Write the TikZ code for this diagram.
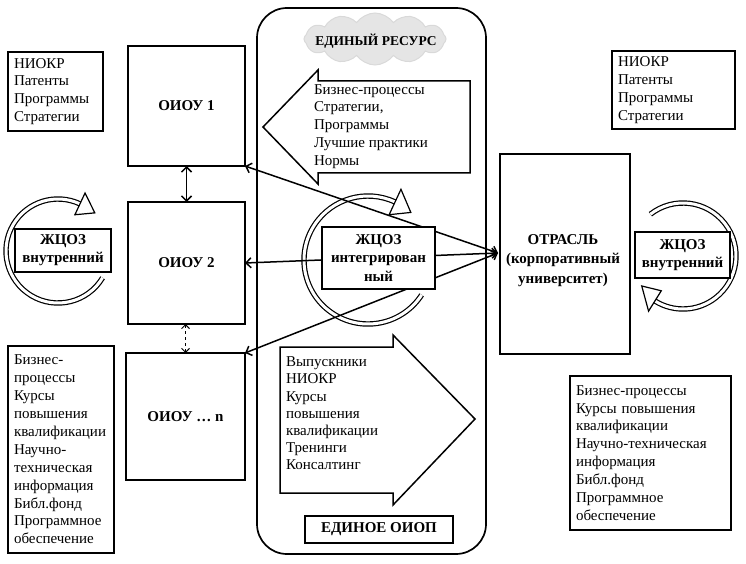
\documentclass[tikz,border=0pt]{standalone}
\usepackage{fontspec}
\setmainfont{Liberation Serif}
\usetikzlibrary{arrows.meta,shapes.symbols}
\begin{document}
\begin{tikzpicture}[x=1pt,y=-1pt,
  every node/.style={inner sep=0pt, outer sep=0pt},
  reg/.style={font=\fontsize{15}{17.9}\selectfont},
  bld/.style={font=\fontsize{15}{18.3}\selectfont\bfseries},
  box/.style={draw, line width=1.7pt, fill=white},
  listbox/.style={box, reg, align=left, inner xsep=6pt},
  labbox/.style={box, bld, align=center},
  blockarrow/.style={draw, line width=1.5pt, fill=white, line join=miter},
  band/.style={draw, line width=1.2pt, double=white, double distance=3pt},
  ahead/.style={draw, line width=1.2pt, fill=white, line join=miter},
  conn/.style={line width=1.5pt, {Straight Barb[length=5pt,width=10pt]}-{Straight Barb[length=5pt,width=10pt]}}
]
\useasboundingbox (0,0) rectangle (746,564);

% central frame
\node[draw, line width=1.7pt, rounded corners=30pt, minimum width=229, minimum height=546] (frame) at (371.5,281) {};

% cloud
\node[cloud, cloud puffs=12, cloud puff arc=110, aspect=2.7, minimum width=142, minimum height=52, fill=gray!20, draw=gray!30, line width=1pt] (cloud) at (375,39) {};
\node[font=\fontsize{13.5}{15}\selectfont\bfseries] (cloudtxt) at (376,41) {ЕДИНЫЙ РЕСУРС};

% block arrows
\draw[blockarrow] (470,81) -- (318,81) -- (318,70) -- (263,127) -- (318,184) -- (318,173) -- (470,173) -- cycle;
\node[reg, align=left, anchor=west] (bpl) at (314,126.5) {Бизнес-процессы\\Стратегии,\\Программы\\Лучшие практики\\Нормы};
\draw[blockarrow] (280,347) -- (393,347) -- (393,335) -- (475,419) -- (393,505) -- (393,493) -- (280,493) -- cycle;
\node[font=\fontsize{15}{17.2}\selectfont, align=left, anchor=west] (bpr) at (286,413.5) {Выпускники\\НИОКР\\Курсы\\повышения\\квалификации\\Тренинги\\Консалтинг};

\node[labbox, minimum width=148, minimum height=27] (oiop) at (379,529.5) {ЕДИНОЕ ОИОП};

% list boxes
\node[listbox, text width=83, minimum height=79] (tl) at (55.5,91.5) {НИОКР\\Патенты\\Программы\\Стратегии};
\node[listbox, text width=111, minimum height=78] (tr) at (673.5,90) {НИОКР\\Патенты\\Программы\\Стратегии};
\node[listbox, text width=94, minimum height=207] (lb) at (61,449.5) {Бизнес-\\процессы\\Курсы\\повышения\\квалификации\\Научно-\\техническая\\информация\\Библ.фонд\\Программное\\обеспечение};
\node[listbox, text width=149, minimum height=154] (rb) at (650.5,453) {Бизнес-процессы\\Курсы повышения\\квалификации\\Научно-техническая\\информация\\Библ.фонд\\Программное\\обеспечение};

% main boxes
\node[labbox, minimum width=117, minimum height=120] (oiou1) at (186.5,106) {ОИОУ 1};
\node[labbox, minimum width=117, minimum height=122] (oiou2) at (186.5,263) {ОИОУ 2};
\node[labbox, minimum width=119, minimum height=127] (oioun) at (185.5,416.5) {ОИОУ … n};
\node[box, minimum width=130, minimum height=200] (otr) at (565,254) {};
\node[font=\fontsize{15}{19.5}\selectfont\bfseries, align=center] (otrtxt) at (563,260.5) {ОТРАСЛЬ\\(корпоративный\\университет)};

% circular arrows
\begin{scope}[shift={(58,251)}]
  \draw[band] (31:52) arc[start angle=31, end angle=295, radius=52];
  \draw[ahead] (295:40) -- (314:53) -- (295:64) -- cycle;
\end{scope}
\begin{scope}[shift={(368,260)}]
  \draw[band] (33:64) arc[start angle=33, end angle=295, radius=64];
  \draw[ahead] (295:50) -- (312:64) -- (295:78) -- cycle;
\end{scope}
\begin{scope}[shift={(683,256)}]
  \draw[band] (232:53) arc[start angle=232, end angle=482, radius=53];
  \draw[ahead] (482:41) -- (504:51) -- (482:65) -- cycle;
\end{scope}

% connectors
\coordinate (hub) at (498,253);
\draw[conn] (hub) -- (oiou1.south east);
\draw[conn] (hub) -- (oiou2.east);
\draw[conn] (hub) -- (oioun.north east);
\draw[conn] (oiou1.south) -- (oiou2.north);
\draw[line width=1pt, dashed, {Straight Barb[length=4pt,width=8pt]}-{Straight Barb[length=4pt,width=8pt]}] (oiou2.south -| oioun.north) -- (oioun.north);

% ZhCOZ boxes
\node[labbox, minimum width=96, minimum height=43] (zl) at (63,250.5) {ЖЦОЗ\\внутренний};
\node[labbox, minimum width=95, minimum height=46] (zr) at (682.5,255) {ЖЦОЗ\\внутренний};
\node[labbox, minimum width=113, minimum height=62] (zc) at (378.5,258) {ЖЦОЗ\\интегрирован\\ный};
\end{tikzpicture}
\end{document}
